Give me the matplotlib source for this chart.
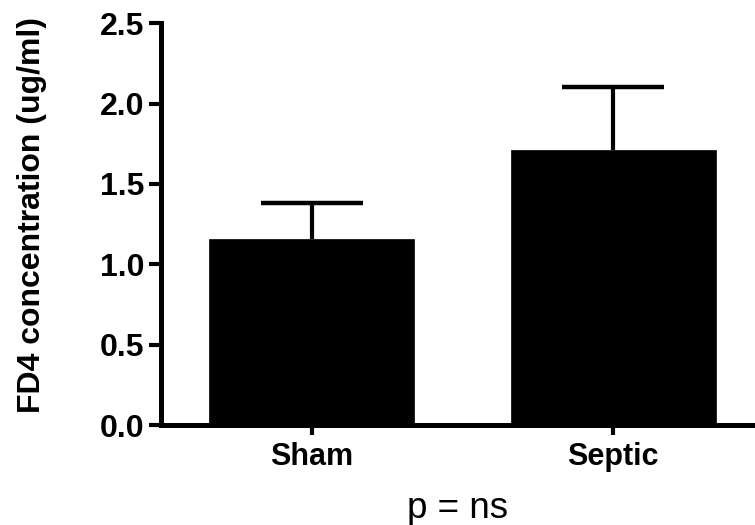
import matplotlib
matplotlib.use("Agg")
import matplotlib.pyplot as plt

# data
groups = ["Sham", "Septic"]
means = [1.155, 1.71]
upper_err = [0.225, 0.39]

plt.rcParams["font.family"] = ["Liberation Sans", "DejaVu Sans"]

fig = plt.figure(figsize=(7.55, 5.25), dpi=100)
ax = fig.add_axes([0.213, 0.19, 0.787, 0.766])

x = list(range(len(groups)))
ax.bar(x, means, width=0.68, color="black", edgecolor="black", linewidth=0.5, zorder=2)
_, caps, _ = ax.errorbar(x, means, yerr=[[0] * len(groups), upper_err], fmt="none",
                         ecolor="black", elinewidth=3, capsize=37, capthick=3.2, zorder=1)
# only the upper half of the error bar is shown
caps[0].set_visible(False)

ax.set_xlim(-0.5, 1.47)
ax.set_ylim(0, 2.5)
ax.set_yticks([0.0, 0.5, 1.0, 1.5, 2.0, 2.5])
ax.set_yticklabels(["0.0", "0.5", "1.0", "1.5", "2.0", "2.5"], fontsize=23, fontweight="bold")
ax.set_xticks(x)
ax.set_xticklabels(groups, fontsize=22, fontweight="bold")

for side in ["top", "right"]:
    ax.spines[side].set_visible(False)
for side in ["left", "bottom"]:
    ax.spines[side].set_linewidth(3.6)
    ax.spines[side].set_zorder(3)
ax.tick_params(axis="y", length=9, width=3, pad=3)
ax.tick_params(axis="x", length=7, width=3, pad=5)

ax.set_ylabel("FD4 concentration (ug/ml)", fontsize=23, fontweight="bold", labelpad=38)
ax.yaxis.label.set_y(0.522)
ax.set_xlabel("p = ns", fontsize=26.5, labelpad=14)

fig.savefig("out.png", dpi=100)
